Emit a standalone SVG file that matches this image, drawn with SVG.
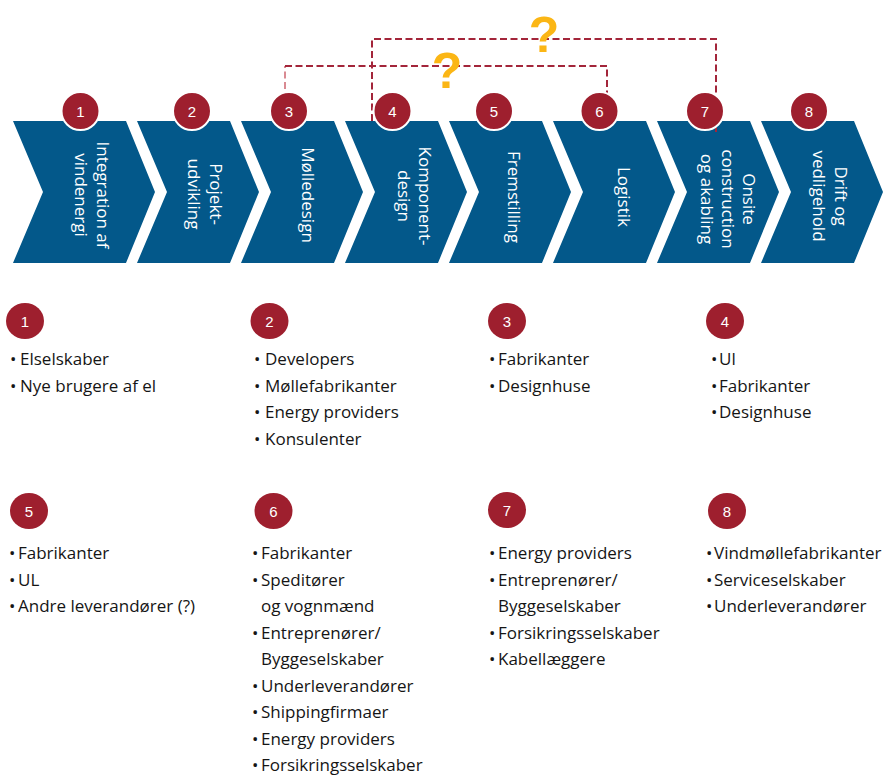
<svg xmlns="http://www.w3.org/2000/svg" width="885" height="777" viewBox="0 0 885 777">
<style>
.chev{fill:#03588A}
.ct{font-family:"Open Sans","DejaVu Sans",sans-serif;font-size:17px;fill:#ffffff;text-anchor:middle}
.badge{fill:#9E1F2E;stroke:#ffffff;stroke-width:2}
.lbadge{fill:#9E1F2E}
.num{font-family:"Liberation Sans",Arial,sans-serif;font-size:15px;fill:#ffffff;text-anchor:middle}
.dash{fill:none;stroke:#A3253A;stroke-width:2;stroke-dasharray:7 3.5}
.dashl{fill:none;stroke:#D98A92;stroke-width:2;stroke-dasharray:7 3.5}
.q{font-family:"Liberation Sans",Arial,sans-serif;font-size:50px;font-weight:bold;fill:#FBB615;text-anchor:middle}
.li{font-family:"Open Sans","DejaVu Sans",sans-serif;font-size:17px;fill:#151515}
</style>
<rect width="885" height="777" fill="#ffffff"/>
<g id="chevrons">
<g id="step-1"><polygon class="chev" points="13,121 126,121 155,192 126,263 13,263 43,192"/>
<text class="ct" transform="translate(97,195) rotate(90)">Integration af</text>
<text class="ct" transform="translate(75,195) rotate(90)">vindenergi</text></g>
<g id="step-2"><polygon class="chev" points="137,121 230,121 259,192 230,263 137,263 167,192"/>
<text class="ct" transform="translate(210,194) rotate(90)">Projekt-</text>
<text class="ct" transform="translate(188,194) rotate(90)">udvikling</text></g>
<g id="step-3"><polygon class="chev" points="241,121 334,121 363,192 334,263 241,263 271,192"/>
<text class="ct" transform="translate(302,195) rotate(90)">Mølledesign</text></g>
<g id="step-4"><polygon class="chev" points="345,121 438,121 467,192 438,263 345,263 375,192"/>
<text class="ct" transform="translate(419,196) rotate(90)">Komponent-</text>
<text class="ct" transform="translate(398,196) rotate(90)">design</text></g>
<g id="step-5"><polygon class="chev" points="449,121 542,121 571,192 542,263 449,263 479,192"/>
<text class="ct" transform="translate(508,197) rotate(90)">Fremstilling</text></g>
<g id="step-6"><polygon class="chev" points="553,121 646,121 675,192 646,263 553,263 583,192"/>
<text class="ct" transform="translate(618,197) rotate(90)">Logistik</text></g>
<g id="step-7"><polygon class="chev" points="657,121 750,121 779,192 750,263 657,263 687,192"/>
<text class="ct" transform="translate(743,199) rotate(90)">Onsite</text>
<text class="ct" transform="translate(722,199) rotate(90)">construction</text>
<text class="ct" transform="translate(701,199) rotate(90)">og akabling</text></g>
<g id="step-8"><polygon class="chev" points="761,121 854,121 883,192 854,263 761,263 791,192"/>
<text class="ct" transform="translate(835,196) rotate(90)">Drift og</text>
<text class="ct" transform="translate(813,196) rotate(90)">vedligehold</text></g>
</g>
<g id="connectors">
<path class="dashl" d="M285,89 V66"/>
<path class="dash" d="M285,66 H607 V132"/>
<path class="dash" d="M372,121 V39 H716 V132"/>
<text class="q" x="447" y="88">?</text>
<text class="q" x="544" y="52">?</text>
</g>
<g id="badges">
<g id="badge-1"><circle class="badge" cx="80.5" cy="111" r="19"/><text class="num" x="80.5" y="116.5">1</text></g>
<g id="badge-2"><circle class="badge" cx="192" cy="111" r="19"/><text class="num" x="192" y="116.5">2</text></g>
<g id="badge-3"><circle class="badge" cx="289" cy="111" r="19"/><text class="num" x="289" y="116.5">3</text></g>
<g id="badge-4"><circle class="badge" cx="392.5" cy="111" r="19"/><text class="num" x="392.5" y="116.5">4</text></g>
<g id="badge-5"><circle class="badge" cx="494" cy="111" r="19"/><text class="num" x="494" y="116.5">5</text></g>
<g id="badge-6"><circle class="badge" cx="599.5" cy="111" r="19"/><text class="num" x="599.5" y="116.5">6</text></g>
<g id="badge-7"><circle class="badge" cx="705" cy="111" r="19"/><text class="num" x="705" y="116.5">7</text></g>
<g id="badge-8"><circle class="badge" cx="809" cy="111" r="19"/><text class="num" x="809" y="116.5">8</text></g>
</g>
<g id="list-1"><ellipse class="lbadge" cx="25" cy="321" rx="19" ry="18"/><text class="num" x="25" y="326.5">1</text>
<text class="li" y="365"><tspan x="10">•</tspan><tspan x="20">Elselskaber</tspan></text>
<text class="li" y="391.5"><tspan x="10">•</tspan><tspan x="20">Nye brugere af el</tspan></text></g>
<g id="list-2"><ellipse class="lbadge" cx="269.5" cy="321" rx="19" ry="18"/><text class="num" x="269.5" y="326.5">2</text>
<text class="li" y="365"><tspan x="254">•</tspan><tspan x="265">Developers</tspan></text>
<text class="li" y="391.5"><tspan x="254">•</tspan><tspan x="265">Møllefabrikanter</tspan></text>
<text class="li" y="418"><tspan x="254">•</tspan><tspan x="265">Energy providers</tspan></text>
<text class="li" y="444.5"><tspan x="254">•</tspan><tspan x="265">Konsulenter</tspan></text></g>
<g id="list-3"><ellipse class="lbadge" cx="507" cy="321" rx="19" ry="18"/><text class="num" x="507" y="326.5">3</text>
<text class="li" y="365"><tspan x="489">•</tspan><tspan x="498">Fabrikanter</tspan></text>
<text class="li" y="391.5"><tspan x="489">•</tspan><tspan x="498">Designhuse</tspan></text></g>
<g id="list-4"><ellipse class="lbadge" cx="725" cy="321" rx="19" ry="18"/><text class="num" x="725" y="326.5">4</text>
<text class="li" y="365"><tspan x="711">•</tspan><tspan x="719">Ul</tspan></text>
<text class="li" y="391.5"><tspan x="711">•</tspan><tspan x="719">Fabrikanter</tspan></text>
<text class="li" y="418"><tspan x="711">•</tspan><tspan x="719">Designhuse</tspan></text></g>
<g id="list-5"><ellipse class="lbadge" cx="29" cy="511" rx="19" ry="18"/><text class="num" x="29" y="516.5">5</text>
<text class="li" y="559"><tspan x="9">•</tspan><tspan x="18">Fabrikanter</tspan></text>
<text class="li" y="585.5"><tspan x="9">•</tspan><tspan x="18">UL</tspan></text>
<text class="li" y="612"><tspan x="9">•</tspan><tspan x="18">Andre leverandører (?)</tspan></text></g>
<g id="list-6"><ellipse class="lbadge" cx="273.5" cy="511" rx="19" ry="18"/><text class="num" x="273.5" y="516.5">6</text>
<text class="li" y="559"><tspan x="252">•</tspan><tspan x="261">Fabrikanter</tspan></text>
<text class="li" y="585.5"><tspan x="252">•</tspan><tspan x="261">Speditører</tspan></text>
<text class="li" x="261" y="612">og vognmænd</text>
<text class="li" y="638.5"><tspan x="252">•</tspan><tspan x="261">Entreprenører/</tspan></text>
<text class="li" x="261" y="665">Byggeselskaber</text>
<text class="li" y="691.5"><tspan x="252">•</tspan><tspan x="261">Underleverandører</tspan></text>
<text class="li" y="718"><tspan x="252">•</tspan><tspan x="261">Shippingfirmaer</tspan></text>
<text class="li" y="744.5"><tspan x="252">•</tspan><tspan x="261">Energy providers</tspan></text>
<text class="li" y="771"><tspan x="252">•</tspan><tspan x="261">Forsikringsselskaber</tspan></text></g>
<g id="list-7"><ellipse class="lbadge" cx="507" cy="510" rx="19" ry="18"/><text class="num" x="507" y="515.5">7</text>
<text class="li" y="559"><tspan x="489">•</tspan><tspan x="498">Energy providers</tspan></text>
<text class="li" y="585.5"><tspan x="489">•</tspan><tspan x="498">Entreprenører/</tspan></text>
<text class="li" x="498" y="612">Byggeselskaber</text>
<text class="li" y="638.5"><tspan x="489">•</tspan><tspan x="498">Forsikringsselskaber</tspan></text>
<text class="li" y="665"><tspan x="489">•</tspan><tspan x="498">Kabellæggere</tspan></text></g>
<g id="list-8"><ellipse class="lbadge" cx="727" cy="511" rx="19" ry="18"/><text class="num" x="727" y="516.5">8</text>
<text class="li" y="559"><tspan x="706">•</tspan><tspan x="714">Vindmøllefabrikanter</tspan></text>
<text class="li" y="585.5"><tspan x="706">•</tspan><tspan x="714">Serviceselskaber</tspan></text>
<text class="li" y="612"><tspan x="706">•</tspan><tspan x="714">Underleverandører</tspan></text></g>
</svg>
